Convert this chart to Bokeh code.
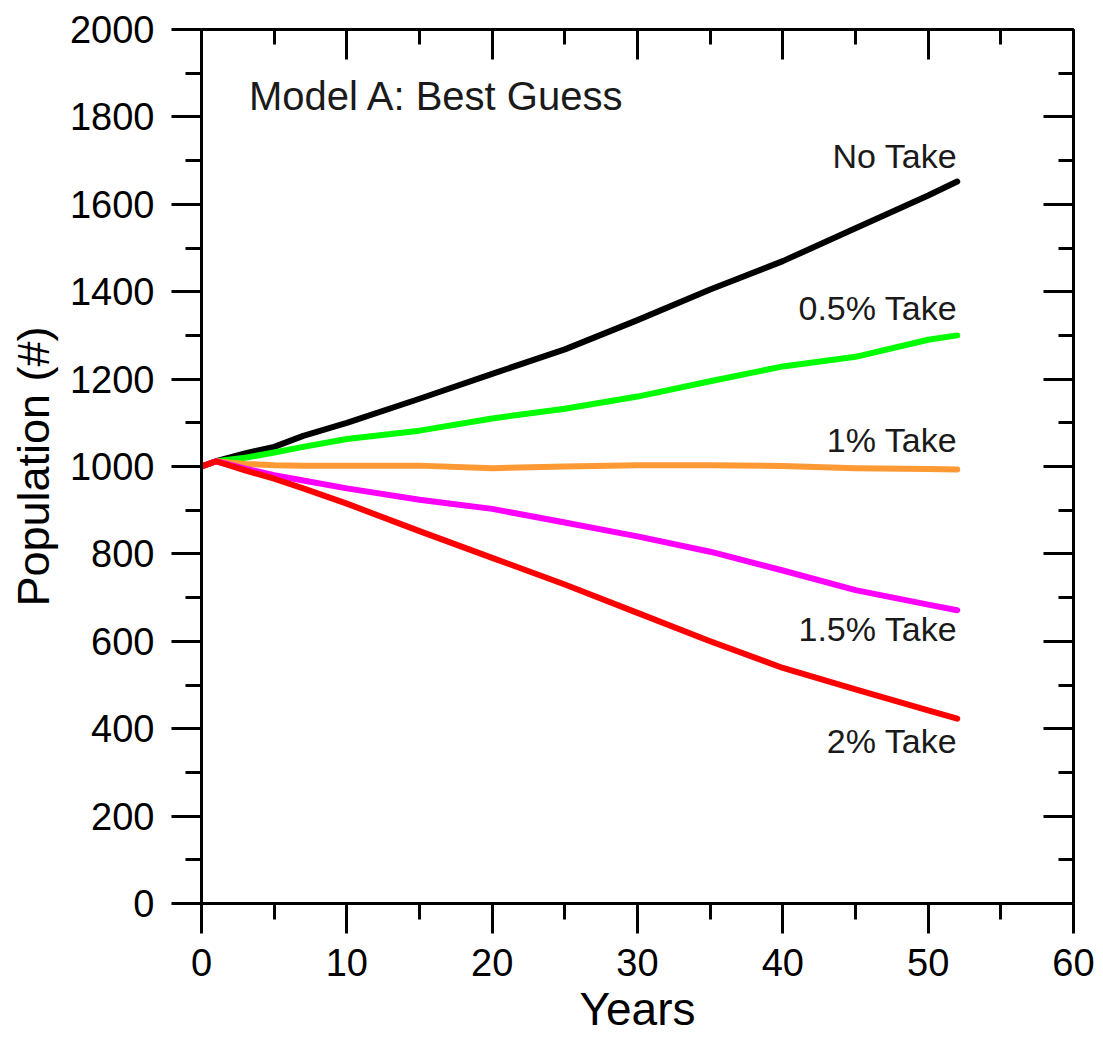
from bokeh.plotting import figure
from bokeh.models import Range1d, LinearAxis, SingleIntervalTicker, Label, CustomJSTickFormatter
from bokeh.core.properties import value
from bokeh.embed import file_html
from bokeh.resources import INLINE

years = [0, 1, 3, 5, 7, 10, 15, 20, 25, 30, 35, 40, 45, 50, 52]
no_take = [1000, 1012, 1030, 1045, 1070, 1100, 1155, 1212, 1268, 1335, 1405, 1470, 1545, 1620, 1652]
take_05 = [1000, 1012, 1020, 1032, 1045, 1063, 1082, 1110, 1132, 1160, 1195, 1229, 1251, 1290, 1300]
take_1 = [1000, 1012, 1006, 1003, 1002, 1002, 1002, 996, 1000, 1003, 1003, 1001, 996, 994, 993]
take_15 = [1000, 1012, 995, 980, 968, 950, 924, 903, 872, 840, 805, 762, 717, 684, 671]
take_2 = [1000, 1012, 991, 972, 950, 915, 852, 791, 730, 665, 600, 539, 490, 442, 423]

series_names = ["No Take", "0.5% Take", "1% Take", "1.5% Take", "2% Take"]
series_values = [no_take, take_05, take_1, take_15, take_2]
series_colors = ["#000000", "#00FF00", "#FF9933", "#FF00FF", "#FF0000"]
label_y = [1711, 1362, 1060, 628, 372]

x_ticks_interval = 10
y_ticks_interval = 200
title_text = "Model A: Best Guess"
x_label = "Years"
y_label = "Population (#)"

FONT = "Liberation Sans"

p = figure(width=1103, height=1038, output_backend="svg", toolbar_location=None,
           x_range=Range1d(0, 60), y_range=Range1d(0, 2000),
           min_border_left=201, min_border_top=29, min_border_right=30, min_border_bottom=135)
p.outline_line_color = None
p.xgrid.visible = False
p.ygrid.visible = False
p.background_fill_color = "white"
p.border_fill_color = "white"

def style_axis(ax, ticker, inward, show_labels):
    ax.ticker = ticker
    ax.axis_line_width = 3
    ax.axis_line_color = "black"
    ax.major_tick_line_width = 3
    ax.minor_tick_line_width = 3
    ax.major_tick_line_color = "black"
    ax.minor_tick_line_color = "black"
    if inward:
        ax.major_tick_in = 30
        ax.major_tick_out = 0
        ax.minor_tick_in = 15
        ax.minor_tick_out = 0
    else:
        ax.major_tick_in = 0
        ax.major_tick_out = 30
        ax.minor_tick_in = 0
        ax.minor_tick_out = 16
    if show_labels:
        ax.major_label_text_font = FONT
        ax.major_label_text_font_size = "38px"
        ax.major_label_text_color = "black"
        ax.axis_label_text_font = FONT
        ax.axis_label_text_font_style = "normal"
        ax.axis_label_text_color = "black"
    else:
        ax.formatter = CustomJSTickFormatter(code="return ''")
        ax.major_label_text_font_size = "10px"
        ax.major_label_standoff = 0

xb = p.xaxis[0]
style_axis(xb, SingleIntervalTicker(interval=x_ticks_interval, num_minor_ticks=2), False, True)
xb.axis_label = x_label
xb.axis_label_text_font_size = "46px"
xb.major_label_standoff = 15
xb.axis_label_standoff = 4

yl = p.yaxis[0]
style_axis(yl, SingleIntervalTicker(interval=y_ticks_interval, num_minor_ticks=2), False, True)
yl.axis_label = y_label
yl.axis_label_text_font_size = "45px"
yl.major_label_standoff = 17
yl.axis_label_standoff = 8

xt = LinearAxis()
style_axis(xt, SingleIntervalTicker(interval=x_ticks_interval, num_minor_ticks=2), True, False)
p.add_layout(xt, "above")

yr = LinearAxis()
style_axis(yr, SingleIntervalTicker(interval=y_ticks_interval, num_minor_ticks=2), True, False)
p.add_layout(yr, "right")

for name, vals, col in zip(series_names, series_values, series_colors):
    p.line(years, vals, line_color=col, line_width=6, line_join="round", line_cap="round")

p.text(x=[years[-1]] * len(series_names), y=label_y, text=series_names,
       text_font=value(FONT), text_font_size="34px", text_color="#1a1a1a",
       text_align="right", text_baseline="alphabetic")

p.add_layout(Label(x=3.26, y=1847, text=title_text, text_font=FONT, text_font_size="40px",
                   text_color="#1a1a1a", text_align="left", text_baseline="alphabetic"))

open("out.html", "w").write(file_html(p, INLINE))
